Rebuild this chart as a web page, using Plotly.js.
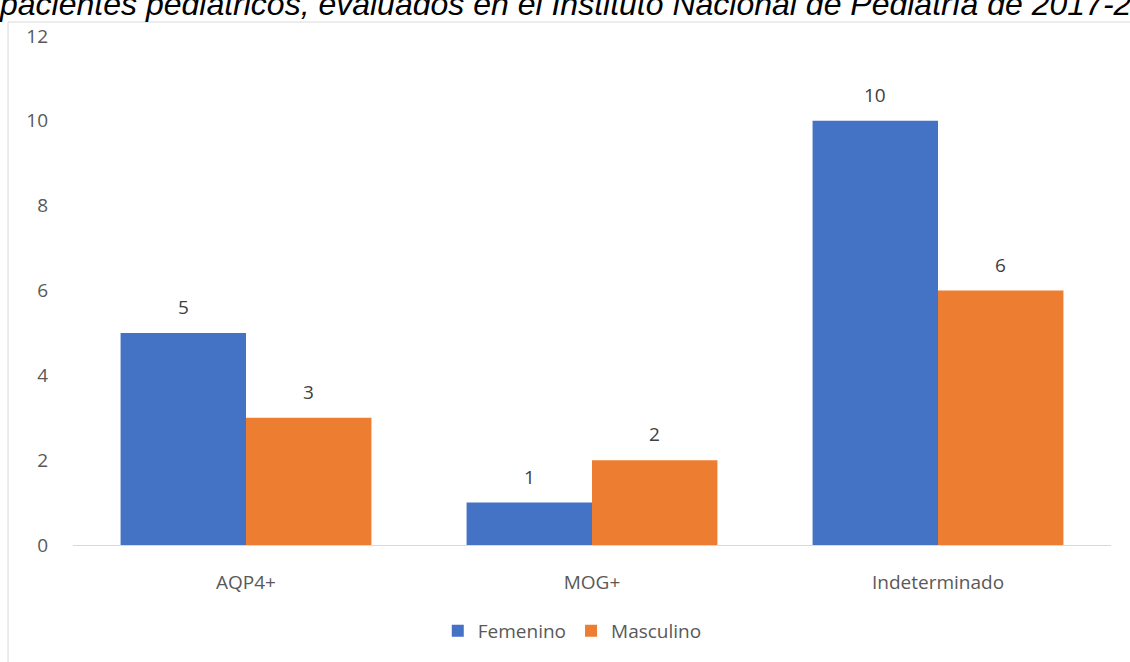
<!DOCTYPE html>
<html>
<head>
<meta charset="utf-8">
<script src="https://cdn.plot.ly/plotly-3.0.1.min.js"></script>
<style>
  html, body { margin: 0; padding: 0; background: #ffffff; }
  #chart { width: 1130px; height: 662px; }
</style>
</head>
<body>
<div id="chart"></div>
<script>
// Diagnostic groups and counts by sex
const categories = ["AQP4+", "MOG+", "Indeterminado"];
const femenino = [5, 1, 10];
const masculino = [3, 2, 6];
const seriesNames = ["Femenino", "Masculino"];
const seriesColors = ["#4472C4", "#ED7D31"];
const yTicks = [0, 2, 4, 6, 8, 10, 12];
const titleText = "pacientes pediátricos, evaluados en el Instituto Nacional de Pediatría de 2017-2021";

const labelFont = { family: "'Open Sans', Lato, sans-serif", size: 19, color: "#595959" };

const traces = [femenino, masculino].map((vals, i) => ({
  type: "bar",
  name: seriesNames[i],
  x: categories,
  y: vals,
  marker: { color: seriesColors[i] },
  hoverinfo: "x+y+name"
}));

// Value labels above each bar, offset to the bar's slot within the group
const gap = 0.275;
const slot = (1 - gap) / 2;
const annotations = [];
[femenino, masculino].forEach((vals, s) => {
  vals.forEach((v, c) => {
    annotations.push({
      x: c + (s === 0 ? -slot / 2 : slot / 2),
      y: v,
      xref: "x",
      yref: "y",
      text: String(v),
      showarrow: false,
      yanchor: "middle",
      yshift: 26,
      font: { family: labelFont.family, size: 19, color: "#404040" }
    });
  });
});

// Title line, partly outside the top edge
annotations.push({
  xref: "paper", yref: "paper",
  x: -0.073, y: 1, xanchor: "left", yanchor: "bottom",
  yshift: 12,
  text: "<i>" + titleText + "</i>",
  showarrow: false,
  font: { family: "'Liberation Sans', Arial, sans-serif", size: 32, color: "#000000" }
});

const layout = {
  width: 1130,
  height: 662,
  margin: { l: 73, r: 19, t: 36, b: 117, pad: 0 },
  paper_bgcolor: "#ffffff",
  plot_bgcolor: "#ffffff",
  barmode: "group",
  bargap: gap,
  bargroupgap: 0,
  showlegend: true,
  legend: {
    orientation: "h",
    x: 0.481, xanchor: "center",
    y: -0.169, yanchor: "middle",
    font: labelFont,
    itemwidth: 30,
    traceorder: "normal"
  },
  xaxis: {
    type: "category",
    showgrid: false,
    zeroline: false,
    showline: true,
    linecolor: "#d9d9d9",
    linewidth: 1,
    ticks: "",
    ticklabelstandoff: 20,
    tickfont: labelFont,
    fixedrange: true
  },
  yaxis: {
    range: [0, 12],
    tickvals: yTicks,
    showgrid: false,
    zeroline: false,
    showline: false,
    ticks: "",
    ticklabelstandoff: 24,
    tickfont: labelFont,
    fixedrange: true
  },
  shapes: [
    {
      type: "rect",
      xref: "paper", yref: "paper",
      x0: -0.0626, x1: 1.1,
      y0: -0.3, y1: 1.0275,
      line: { color: "#d9d9d9", width: 1 },
      fillcolor: "rgba(0,0,0,0)",
      layer: "below"
    }
  ],
  annotations: annotations
};

Plotly.newPlot("chart", traces, layout, { displayModeBar: false, staticPlot: true });
</script>
</body>
</html>
